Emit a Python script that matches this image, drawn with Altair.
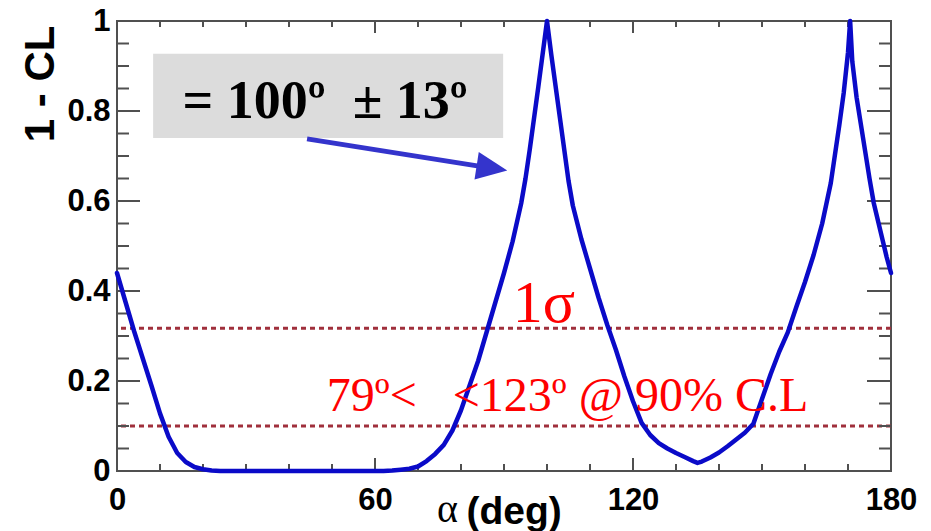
import altair as alt
import pandas as pd

# Scan of 1 - CL versus alpha (degrees)
alpha = [0, 2, 4, 6, 8, 10, 12, 14, 16, 18, 20, 22, 24, 30, 40, 50, 60, 62, 64,
         66, 68, 70, 72, 74, 76, 78, 80, 82, 84, 86, 88, 90, 92, 94, 95, 96, 98,
         100, 101, 102, 103, 104, 105, 106, 108, 110, 112, 114, 116, 118, 120,
         122, 124, 126, 128, 130, 132, 134, 135, 136, 138, 140, 142, 144, 146,
         148, 150, 152, 154, 156, 158, 160, 162, 164, 166, 168, 169, 170, 170.5,
         171, 172, 173, 174, 175, 176, 177, 178, 179, 180]
one_minus_cl = [0.44, 0.375, 0.31, 0.25, 0.19, 0.128, 0.076, 0.04, 0.02, 0.009,
                0.004, 0.001, 0.0, 0.0, 0.0, 0.0, 0.0, 0.0, 0.001,
                0.003, 0.005, 0.01, 0.022, 0.038, 0.058, 0.09, 0.135, 0.19, 0.245,
                0.31, 0.375, 0.44, 0.51, 0.595, 0.65, 0.715, 0.855,
                1.0, 0.925, 0.855, 0.785, 0.715, 0.645, 0.59, 0.515, 0.45, 0.385,
                0.325, 0.27, 0.21, 0.155,
                0.107, 0.08, 0.062, 0.05, 0.04, 0.031, 0.022, 0.018, 0.021, 0.03,
                0.041, 0.055, 0.07, 0.085,
                0.105, 0.16, 0.215, 0.265, 0.308, 0.365, 0.42, 0.48, 0.55, 0.64,
                0.77, 0.84, 0.93, 1.0,
                0.91, 0.83, 0.77, 0.71, 0.65, 0.595, 0.555, 0.515, 0.475, 0.44]

# Confidence-level reference lines (1 sigma and 90% C.L.)
cl_levels = [0.317, 0.1]

# Axis ticks and labels
x_labels = [0, 60, 120, 180]
x_major_ticks = [60, 120]
x_minor_ticks = [10, 20, 30, 40, 50, 70, 80, 90, 100, 110, 130, 140, 150, 160, 170]
y_labels = [0, 0.2, 0.4, 0.6, 0.8, 1.0]
y_major_ticks = [0.2, 0.4, 0.6, 0.8]
y_minor_ticks = [0.05, 0.1, 0.15, 0.25, 0.3, 0.35, 0.45, 0.5, 0.55, 0.65, 0.7,
                 0.75, 0.85, 0.9, 0.95]

W, H = 774, 450
FRAME = "#505050"
CURVE = "#0a0ac8"
ARROW = "#3434cc"
SANS = "Liberation Sans"
SERIF = "Liberation Serif"

xscale = alt.Scale(domain=[0, 180], nice=False, zero=False)
yscale = alt.Scale(domain=[0, 1], nice=False, zero=False)

# One shared definition per axis, reused by every layer so they merge cleanly
AX = alt.Axis(
    values=x_labels, ticks=False, domain=False, grid=False,
    labelFont=SANS, labelFontWeight="bold", labelFontSize=31,
    labelColor="black", labelPadding=14, labelFlush=False,
    labelOverlap=False, labelBound=False,
    title="(deg)", titleFont=SANS, titleFontWeight="bold",
    titleFontSize=39, titleColor="black", titleX=349, titleY=52,
    titleAlign="left", titleBaseline="alphabetic")
AY = alt.Axis(
    values=y_labels, ticks=False, domain=False, grid=False,
    labelExpr="datum.value == 0 ? '0' : datum.value == 1 ? '1' : format(datum.value, '.1f')",
    labelFont=SANS, labelFontWeight="bold", labelFontSize=31,
    labelColor="black", labelPadding=7, labelFlush=False,
    labelOverlap=False, labelBound=False,
    title="1 - CL", titleFont=SANS, titleFontWeight="bold",
    titleFontSize=42, titleColor="black", titleAngle=270,
    titleX=-64, titleY=4, titleAlign="right",
    titleBaseline="alphabetic")


def X(f):
    return alt.X(f"{f}:Q", scale=xscale, axis=AX)


def Y(f):
    return alt.Y(f"{f}:Q", scale=yscale, axis=AY)


curve_df = pd.DataFrame({"alpha": alpha, "cl": one_minus_cl})

curve = alt.Chart(curve_df).mark_line(
    color=CURVE, strokeWidth=4.5, strokeJoin="round", strokeCap="round"
).encode(x=X("alpha"), y=Y("cl"))

levels = alt.Chart(pd.DataFrame({"level": cl_levels})).mark_rule(
    color="#a0303c", strokeWidth=3, strokeDash=[5, 4]
).encode(y=Y("level"))


def xticks(values, y0, y1):
    return alt.Chart(pd.DataFrame({"t": values})).mark_rule(
        color=FRAME, strokeWidth=2
    ).encode(x=X("t"), y=alt.value(y0), y2=alt.value(y1))


def yticks(values, x0, x1):
    return alt.Chart(pd.DataFrame({"t": values})).mark_rule(
        color=FRAME, strokeWidth=2
    ).encode(y=Y("t"), x=alt.value(x0), x2=alt.value(x1))


ticks = [
    xticks(x_minor_ticks, H, H - 7), xticks(x_major_ticks, H, H - 13),
    xticks(x_minor_ticks, 0, 6), xticks(x_major_ticks, 0, 12),
    yticks(y_minor_ticks, 0, 12), yticks(y_major_ticks, 0, 23),
    yticks(y_minor_ticks, W, W - 12), yticks(y_major_ticks, W, W - 24),
]


def spot(**kw):
    """One-row table holding an annotation's anchor in data units."""
    return pd.DataFrame({k: [v] for k, v in kw.items()})


box = alt.Chart(spot(a=8.4, b=89.8, c=0.927, d=0.74)).mark_rect(
    color="#dcdcdc"
).encode(x=X("a"), x2="b:Q", y=Y("c"), y2="d:Q")

box_text = alt.Chart(spot(a=48.4, c=0.784)).mark_text(
    text="= 100º\u00a0\u00a0± 13º", font=SERIF, fontWeight="bold",
    fontSize=54, color="black", align="center", baseline="alphabetic"
).encode(x=X("a"), y=Y("c"))

arrow_line = alt.Chart(spot(a=44.2, b=84.5, c=0.738, d=0.677)).mark_rule(
    color=ARROW, strokeWidth=5
).encode(x=X("a"), x2="b:Q", y=Y("c"), y2="d:Q")

arrow_head = alt.Chart(spot(a=87.2, c=0.673)).mark_point(
    shape="M-1,-0.9L1,0L-1,0.9Z", filled=True, color=ARROW, opacity=1,
    size=961, angle=8.8, strokeWidth=0
).encode(x=X("a"), y=Y("c"))

sigma_text = alt.Chart(spot(a=99.3, c=0.331)).mark_text(
    text="1σ", font=SERIF, fontSize=60, color="#ff0000",
    align="center", baseline="alphabetic"
).encode(x=X("a"), y=Y("c"))

range_text = alt.Chart(spot(a=48.8, c=0.1333)).mark_text(
    text="79º<\u00a0\u00a0\u00a0<123º @ 90% C.L", font=SERIF, fontSize=48,
    color="#ff0000", align="left", baseline="alphabetic"
).encode(x=X("a"), y=Y("c"))

alpha_symbol = alt.Chart(spot(a=74.4, c=-0.113)).mark_text(
    text="α", font=SERIF, fontSize=40, color="black",
    align="left", baseline="alphabetic"
).encode(x=X("a"), y=Y("c"))

chart = alt.layer(
    levels, box, box_text, *ticks, curve, arrow_line, arrow_head,
    sigma_text, range_text, alpha_symbol
).properties(
    width=W, height=H,
    padding={"left": 117, "top": 21, "right": 40, "bottom": 60},
    autosize=alt.AutoSizeParams(type="none"),
    background="white",
).configure_view(stroke=FRAME, strokeWidth=2)

chart.save("out.html", embed_options={"renderer": "svg", "actions": False})
